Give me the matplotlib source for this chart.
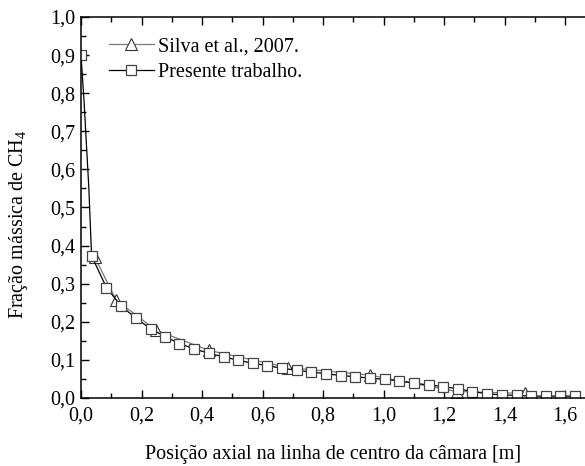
import matplotlib
matplotlib.use("Agg")
import matplotlib.pyplot as plt
from matplotlib.ticker import MultipleLocator, FuncFormatter

# Presente trabalho (line points; squares drawn on a subset)
presente_x = [0.0, 0.010, 0.019, 0.026, 0.031, 0.035, 0.084, 0.132, 0.182, 0.230,
              0.278, 0.325, 0.375, 0.423, 0.472, 0.520, 0.568, 0.616, 0.664, 0.713,
              0.760, 0.762, 0.809, 0.858, 0.906, 0.955, 1.004, 1.052, 1.101, 1.149,
              1.197, 1.246, 1.294, 1.343, 1.391, 1.440, 1.488, 1.537, 1.585, 1.634]
presente_y = [0.900, 0.780, 0.650, 0.550, 0.450, 0.373, 0.290, 0.242, 0.209, 0.182,
              0.161, 0.143, 0.129, 0.117, 0.108, 0.099, 0.091, 0.085, 0.078, 0.073,
              0.068, 0.068, 0.064, 0.059, 0.056, 0.052, 0.049, 0.045, 0.039, 0.034,
              0.030, 0.024, 0.017, 0.011, 0.008, 0.007, 0.005, 0.005, 0.005, 0.005]
presente_marks = [0] + list(range(5, 21)) + list(range(22, 40))

# Silva et al., 2007
silva_x = [0.046, 0.116, 0.248, 0.423, 0.683, 0.955, 1.242, 1.469]
silva_y = [0.369, 0.257, 0.178, 0.125, 0.080, 0.060, 0.017, 0.012]

plt.rcParams["font.family"] = ["Liberation Serif", "DejaVu Serif"]
plt.rcParams["mathtext.fontset"] = "custom"
plt.rcParams["mathtext.rm"] = "Liberation Serif"
plt.rcParams["mathtext.it"] = "Liberation Serif"

FS = 14.5

fig = plt.figure(figsize=(5.85, 4.66), dpi=100)
ax = fig.add_axes([81 / 585, 1 - 398 / 466, 1 - 81 / 585, 381 / 466])

ax.plot(silva_x, silva_y, color="#7a7a7a", linewidth=0.9, marker="^",
        markersize=8, markerfacecolor="white", markeredgecolor="#333333",
        markeredgewidth=0.8, label="Silva et al., 2007.")
ax.plot(presente_x, presente_y, color="black", linewidth=0.9, marker="s",
        markersize=7.5, markevery=presente_marks, markerfacecolor="white",
        markeredgecolor="#444444", markeredgewidth=0.9, label="Presente trabalho.")

ax.set_xlim(0, 1.666)
ax.set_ylim(0, 1.0)
ax.xaxis.set_major_locator(MultipleLocator(0.2))
ax.xaxis.set_minor_locator(MultipleLocator(0.1))
ax.yaxis.set_major_locator(MultipleLocator(0.1))
ax.yaxis.set_minor_locator(MultipleLocator(0.05))
comma = FuncFormatter(lambda v, p: f"{v:.1f}".replace(".", ","))
ax.xaxis.set_major_formatter(comma)
ax.yaxis.set_major_formatter(comma)

ax.tick_params(which="both", direction="in", top=True, right=False, labelsize=FS,
               width=1.0)
ax.tick_params(which="major", length=6)
ax.tick_params(which="minor", length=3.5)
ax.tick_params(axis="x", pad=6)
ax.tick_params(axis="y", pad=4)
ax.spines["right"].set_visible(False)
for s in ["left", "bottom", "top"]:
    ax.spines[s].set_linewidth(1.1)

ax.set_xlabel("Posição axial na linha de centro da câmara [m]", fontsize=FS,
              labelpad=14)
ax.set_ylabel("Fração mássica de CH$_4$", fontsize=FS)
ax.yaxis.set_label_coords(-0.102, 0.455)

ax.legend(loc="upper left", bbox_to_anchor=(0.02, 0.995), frameon=False,
          fontsize=FS, handlelength=2.2, handletextpad=0.2, labelspacing=0.35)

fig.savefig("out.png", dpi=100)
